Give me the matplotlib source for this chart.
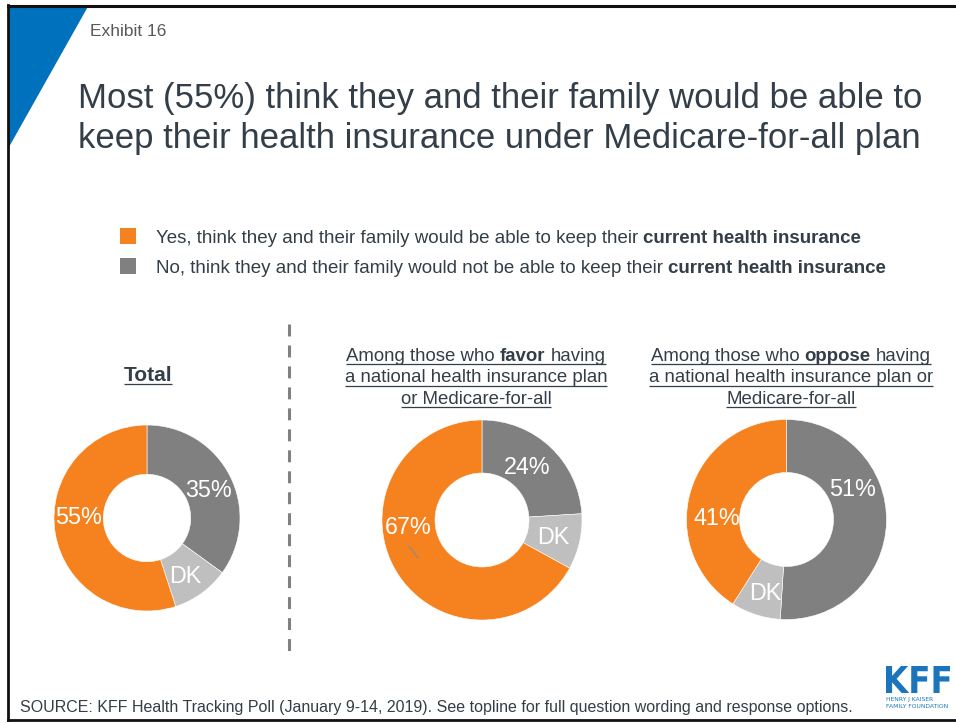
import matplotlib
matplotlib.use("Agg")
import matplotlib.pyplot as plt
from matplotlib.patches import Polygon, PathPatch
from matplotlib.textpath import TextPath
from matplotlib.font_manager import FontProperties
from matplotlib.transforms import Affine2D
import numpy as np

# ---- data ----
groups = ["Total", "Favor", "Oppose"]
yes_pct = [55, 67, 41]
no_pct = [35, 24, 51]
dk_pct = [10, 9, 8]
slice_labels = ["No", "DK", "Yes"]

title_lines = [
    "Most (55%) think they and their family would be able to",
    "keep their health insurance under Medicare-for-all plan",
]
legend_rows = [
    [("Yes, think they and their family would be able to keep their", "normal"),
     ("current health insurance", "bold")],
    [("No, think they and their family would not be able to keep their", "normal"),
     ("current health insurance", "bold")],
]
group_headings = [
    [[("Total", "bold")]],
    [[("Among those who", "normal"), ("favor", "bold"), ("having", "normal")],
     [("a national health insurance plan", "normal")],
     [("or Medicare-for-all", "normal")]],
    [[("Among those who", "normal"), ("oppose", "bold"), ("having", "normal")],
     [("a national health insurance plan or", "normal")],
     [("Medicare-for-all", "normal")]],
]
source_text = ("SOURCE: KFF Health Tracking Poll (January 9-14, 2019). "
               "See topline for full question wording and response options.")

# ---- style ----
FONT = "Liberation Sans"
plt.rcParams["font.family"] = [FONT, "DejaVu Sans"]
plt.rcParams["lines.scale_dashes"] = False
ORANGE = "#F5821F"
GRAY = "#808080"
LIGHT = "#BFBFBF"
TEXT = "#333E48"
BLUE = "#0071BC"
LOGO = "#1A75BC"
slice_colors = [GRAY, LIGHT, ORANGE]

W, H = 956, 723
fig = plt.figure(figsize=(W / 100, H / 100), dpi=100)
bg = fig.add_axes([0, 0, 1, 1])
bg.set_xlim(0, W)
bg.set_ylim(H, 0)
bg.axis("off")
renderer = fig.canvas.get_renderer()


def text_width(s, size, weight):
    t = bg.text(0, 0, s, fontsize=size, fontweight=weight)
    w = t.get_window_extent(renderer).width
    t.remove()
    return w


def rich_line(x, y, parts, size, color, ha="left", underline=False):
    space = text_width("a a", size, "normal") - text_width("aa", size, "normal")
    widths = [text_width(s, size, w) for s, w in parts]
    total = sum(widths) + space * (len(parts) - 1)
    x0 = x - total / 2 if ha == "center" else x
    cx = x0
    for (s, w), wd in zip(parts, widths):
        bg.text(cx, y, s, fontsize=size, fontweight=w, color=color,
                ha="left", va="baseline")
        cx += wd + space
    if underline:
        bg.plot([x0, x0 + total], [y + 3, y + 3], color=color, lw=0.9,
                solid_capstyle="butt")


# frame and corner accent
bg.plot([8, W + 5], [5.5, 5.5], color="#111111", lw=2.2)
bg.plot([8.5, 8.5], [5, 720], color="#111111", lw=2.0)
bg.plot([8, W + 5], [720, 720], color="#111111", lw=2.0)
bg.add_patch(Polygon([[9, 6.5], [88, 6.5], [9, 147]], closed=True,
                     facecolor=BLUE, edgecolor="none"))

bg.text(90, 36, "Exhibit 16", fontsize=12.5, color="#595959", va="baseline")
for i, line in enumerate(title_lines):
    bg.text(78, 108 + 40 * i, line, fontsize=25, color=TEXT, va="baseline")

# legend
for i, (row, col) in enumerate(zip(legend_rows, [ORANGE, GRAY])):
    yc = 236 + 30 * i
    bg.add_patch(plt.Rectangle((120, yc - 8), 16, 16, facecolor=col,
                               edgecolor="none"))
    rich_line(156, yc + 7, row, 13.47, TEXT)

# dashed separator
bg.plot([289, 289], [324, 651], color=GRAY, lw=2.2, dashes=(8.6, 6.5))

# headings
heading_x = [148, 476, 791]
heading_y = [[381], [361, 382.5, 404], [361, 382.5, 404]]
heading_size = [15, 13.4, 13.4]
for hx, hys, lines, hs in zip(heading_x, heading_y, group_headings, heading_size):
    for hy, parts in zip(hys, lines):
        rich_line(hx, hy, parts, hs, TEXT, ha="center", underline=True)

# donuts
centers = [(147, 518), (482, 520), (786.5, 519.5)]
radii = [93, 100, 100]
label_pos = [
    [(0.66, 0.30), (0.41, -0.63), (-0.74, 0.0)],
    [(0.45, 0.52), (0.71, -0.18), (-0.74, -0.07)],
    [(0.66, 0.30), (-0.21, -0.74), (-0.70, 0.01)],
]
for k in range(len(groups)):
    cx, cy = centers[k]
    r = radii[k]
    ax = fig.add_axes([(cx - r) / W, 1 - (cy + r) / H, 2 * r / W, 2 * r / H])
    vals = [no_pct[k], dk_pct[k], yes_pct[k]]
    ax.pie(vals, colors=slice_colors, startangle=90, counterclock=False,
           radius=1.0, wedgeprops=dict(width=0.53, edgecolor="white", lw=0.4))
    ax.set_xlim(-1, 1)
    ax.set_ylim(-1, 1)
    ax.set_aspect("equal")
    ax.axis("off")
    texts = [f"{no_pct[k]}%", "DK", f"{yes_pct[k]}%"]
    for (lx, ly), s in zip(label_pos[k], texts):
        ax.text(lx, ly, s, fontsize=16.8, color="white", ha="center",
                va="center")
    if groups[k] == "Favor":
        ax.plot([-0.73, -0.64], [-0.26, -0.38], color="#8C8C8C", lw=0.8)

# footer
bg.text(20, 712, source_text, fontsize=11.5, color=TEXT, va="baseline")

# logo: wordmark fitted into its box
kff_path = TextPath((0, 0), "KFF", size=10,
                    prop=FontProperties(family="Liberation Sans Narrow",
                                        weight="bold"))
ext = kff_path.get_extents()
bx0, bx1, by0, by1 = 886, 950, 666, 693
sx = (bx1 - bx0) / ext.width
sy = (by1 - by0) / ext.height
tr = (Affine2D().translate(-ext.x0, -ext.y0).scale(sx, -sy)
      .translate(bx0, by1))
bg.add_patch(PathPatch(tr.transform_path(kff_path), facecolor=LOGO,
                       edgecolor="none"))
bg.text(886, 701, "HENRY J KAISER", fontsize=4.3, color=LOGO, va="baseline",
        family="Liberation Sans Narrow")
bg.text(886, 708.5, "FAMILY FOUNDATION", fontsize=4.3, color=LOGO,
        va="baseline", family="Liberation Sans Narrow")

fig.savefig("out.png", dpi=100, facecolor="white")
